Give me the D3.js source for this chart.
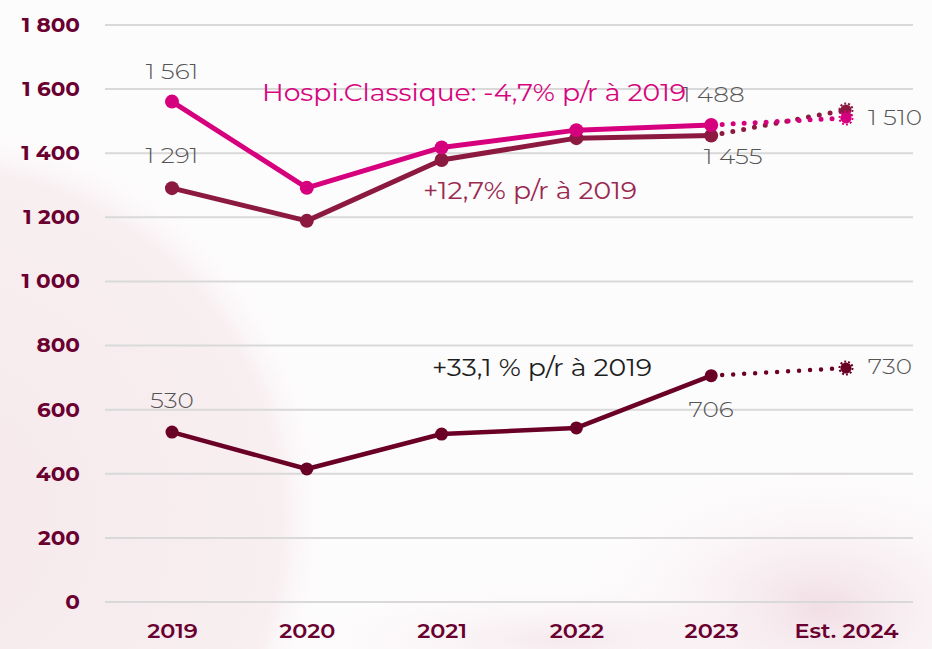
<!DOCTYPE html>
<html><head><meta charset="utf-8">
<script src="https://cdn.jsdelivr.net/npm/d3@7"></script>
<style>
html,body{margin:0;padding:0;background:#fff;}
svg{display:block;font-family:Montserrat,"Open Sans","Noto Sans",sans-serif;}
</style></head>
<body>
<div id="chart"></div>
<script>
const categories = ["2019","2020","2021","2022","2023","Est. 2024"];
const yTicks = [0,200,400,600,800,1000,1200,1400,1600,1800];
const seriesPink = [1561,1292,1418,1472,1488,1510];
const seriesMaroon = [1291,1189,1379,1447,1455,1535];
const seriesDark = [530,415,524,543,706,730];
const annotationTexts = ["Hospi.Classique: -4,7% p/r à 2019","+12,7% p/r à 2019","+33,1 % p/r à 2019"];

// placement of value labels (series key, point index, offsets)
const labelPlacement = [
  ["pink",0,0,-30],["maroon",0,0,-33],["pink",4,2,-31],["maroon",4,22,21],
  ["pink",5,49,0],["dark",0,0,-32],["dark",4,0,34],["dark",5,44,-1]
];
const annotationPlacement = [
  {x:262,y:92,w:424,color:"#d6067f"},
  {x:423,y:190,w:214,color:"#9a2a50"},
  {x:432,y:367,w:220,color:"#1e1e1e"}
];

const W=932,H=649;
const svg=d3.select("#chart").append("svg").attr("width",W).attr("height",H);
const defs=svg.append("defs");
const g1=defs.append("radialGradient").attr("id","blob1");
g1.append("stop").attr("offset","0%").attr("stop-color","#f5e8eb");
g1.append("stop").attr("offset","88%").attr("stop-color","#f8eff1");
g1.append("stop").attr("offset","100%").attr("stop-color","#fdfbfc").attr("stop-opacity",0);
const g2=defs.append("radialGradient").attr("id","blob2");
g2.append("stop").attr("offset","0%").attr("stop-color","#f1dde4");
g2.append("stop").attr("offset","100%").attr("stop-color","#ffffff").attr("stop-opacity",0);
svg.append("rect").attr("width",W).attr("height",H).attr("fill","#fdfcfd");
svg.append("circle").attr("cx",-70).attr("cy",520).attr("r",400).attr("fill","url(#blob1)");
svg.append("ellipse").attr("cx",820).attr("cy",610).attr("rx",280).attr("ry",170).attr("fill","url(#blob2)");
svg.append("ellipse").attr("cx",560).attr("cy",640).attr("rx",320).attr("ry",70).attr("fill","url(#blob2)").attr("opacity",0.6);

const x=d3.scalePoint().domain(categories).range([172,846]);
const y=d3.scaleLinear().domain([0,1800]).range([602,25]);
const fmt=d3.formatLocale({decimal:",",thousands:" ",grouping:[3],currency:["","€"]}).format(",d");

function widen(sel,f){sel.each(function(){const L=this.getComputedTextLength();d3.select(this).attr("textLength",L*f).attr("lengthAdjust","spacingAndGlyphs");});}

// grid
svg.append("g").selectAll("line").data(yTicks).join("line")
  .attr("x1",105).attr("x2",913).attr("y1",d=>y(d)).attr("y2",d=>y(d))
  .attr("stroke","#d9d9d9").attr("stroke-width",2);

// y axis
const yAxis=svg.append("g").attr("transform","translate(80,0)")
  .call(d3.axisLeft(y).tickValues(yTicks).tickFormat(fmt).tickSize(0).tickPadding(0));
yAxis.select(".domain").remove();
yAxis.selectAll("text").attr("font-size",20).attr("font-weight",700).attr("fill","#6a0030")
  .attr("font-family","Montserrat,'Open Sans',sans-serif").call(widen,1.08);

// x axis
const xAxis=svg.append("g").attr("transform","translate(0,621)")
  .call(d3.axisBottom(x).tickSize(0).tickPadding(0));
xAxis.select(".domain").remove();
xAxis.selectAll("text").attr("font-size",20).attr("font-weight",600).attr("fill","#6a0030")
  .attr("dy","0.85em").attr("font-family","Montserrat,'Open Sans',sans-serif").call(widen,1.12);

const series=[
  {key:"pink",vals:seriesPink,color:"#d6007e",w:5},
  {key:"maroon",vals:seriesMaroon,color:"#8c1a40",w:5},
  {key:"dark",vals:seriesDark,color:"#6a0026",w:4.5}
];
const line=d3.line().x(d=>x(d.c)).y(d=>y(d.v));
const order=[series[1],series[0],series[2]];
order.forEach(s=>{
  const pts=s.vals.map((v,i)=>({c:categories[i],v}));
  svg.append("path").datum(pts.slice(0,5)).attr("d",line).attr("fill","none")
    .attr("stroke",s.color).attr("stroke-width",s.w).attr("stroke-linejoin","round");
  svg.append("path").datum(pts.slice(4)).attr("d",line).attr("fill","none")
    .attr("stroke",s.color).attr("stroke-width",s.w).attr("stroke-linecap","round")
    .attr("stroke-dasharray","0,11");
  svg.append("g").selectAll("circle").data(pts.slice(0,5)).join("circle")
    .attr("cx",d=>x(d.c)).attr("cy",d=>y(d.v)).attr("r",s.key==="dark"?6.5:7).attr("fill",s.color);
  const last=pts[5];
  svg.append("circle").attr("cx",x(last.c)).attr("cy",y(last.v)).attr("r",5.5).attr("fill",s.color);
  svg.append("circle").attr("cx",x(last.c)).attr("cy",y(last.v)).attr("r",6.5).attr("fill","none")
    .attr("stroke",s.color).attr("stroke-width",2).attr("stroke-dasharray","2,2");
});

const lookup={pink:seriesPink,maroon:seriesMaroon,dark:seriesDark};
svg.append("g").selectAll("text").data(labelPlacement).join("text")
  .attr("x",d=>x(categories[d[1]])+d[2]).attr("y",d=>y(lookup[d[0]][d[1]])+d[3])
  .attr("text-anchor","middle").attr("dominant-baseline","central")
  .attr("font-size",21).attr("font-weight",300).attr("fill","#555")
  .text(d=>fmt(lookup[d[0]][d[1]])).call(widen,1.18);

svg.append("g").selectAll("text").data(annotationTexts).join("text")
  .attr("x",(d,i)=>annotationPlacement[i].x).attr("y",(d,i)=>annotationPlacement[i].y)
  .attr("dominant-baseline","central")
  .attr("font-size",24).attr("font-weight",400).attr("fill",(d,i)=>annotationPlacement[i].color)
  .attr("textLength",(d,i)=>annotationPlacement[i].w).attr("lengthAdjust","spacingAndGlyphs")
  .text(d=>d);
</script>
</body></html>
